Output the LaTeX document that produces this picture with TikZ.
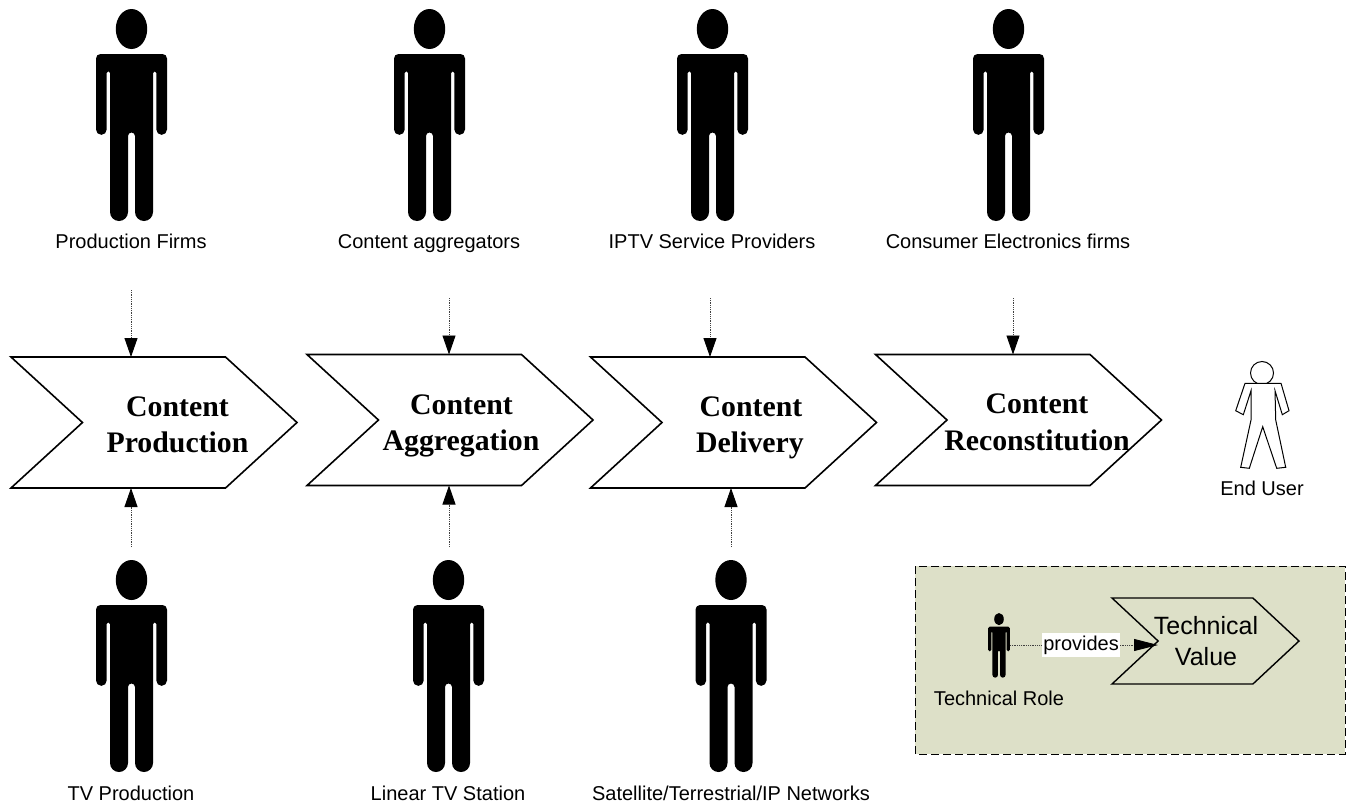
\documentclass[tikz,border=0pt]{standalone}
\usepackage{fontspec}
\setmainfont{Liberation Sans}
\newfontfamily\serifbold[Ligatures=TeX]{Liberation Serif Bold}
\usetikzlibrary{arrows.meta, shapes.symbols}
\tikzset{
    figbox/.style={inner sep=0pt, outer sep=0pt, minimum width=71pt, minimum height=212pt},
    rolelabel/.style={font=\fontsize{20}{22}\selectfont, inner sep=0pt, anchor=base},
    valuelabel/.style={font=\serifbold\fontsize{29.8}{33}\selectfont, inner sep=0pt, anchor=base},
    chevron/.style={draw, line width=1.6pt, signal, signal from=west, signal to=east, signal pointer angle=85,
        inner sep=0pt, outer sep=0pt, minimum width=286pt, minimum height=131pt},
    flow/.style={black!75, dash pattern=on 1pt off 0.8pt, line width=0.9pt, -{Triangle[length=19pt, width=13pt, black]}},
    figure/.pic={
        \fill (0,20) ellipse [x radius=15.7, y radius=20];
        \fill (-31,45) -- (31,45) arc [start angle=-90, end angle=0, radius=4.5]
            -- (35.5,120.5) arc [start angle=0, end angle=180, radius=5.35]
            -- (24.8,64) arc [start angle=0, end angle=-180, radius=1.65]
            -- (21.5,203) arc [start angle=0, end angle=180, radius=9]
            -- (3.5,127) arc [start angle=0, end angle=-180, radius=3.5]
            -- (-3.5,203) arc [start angle=0, end angle=180, radius=9]
            -- (-21.5,64) arc [start angle=0, end angle=-180, radius=1.65]
            -- (-24.8,120.5) arc [start angle=0, end angle=180, radius=5.35]
            -- (-35.5,49.5) arc [start angle=-180, end angle=-90, radius=4.5] -- cycle;
    }
}
\begin{document}
\begin{tikzpicture}[x=1pt, y=-1pt]
    \useasboundingbox (0,0) rectangle (1348,803);

    \node[figbox] (firms) at (131.5,115) {};
    \node[figbox] (aggregators) at (429.5,115) {};
    \node[figbox] (iptv) at (712.5,115) {};
    \node[figbox] (electronics) at (1008.5,115) {};
    \node[figbox] (tvprod) at (131.5,666) {};
    \node[figbox] (linear) at (448.5,666) {};
    \node[figbox] (networks) at (731,666) {};
    \foreach \fig in {firms, aggregators, iptv, electronics, tvprod, linear, networks}
        \pic at (\fig.north) {figure};

    \node[rolelabel] at (131,248) {Production Firms};
    \node[rolelabel] at (429,248) {Content aggregators};
    \node[rolelabel] at (712,248) {IPTV Service Providers};
    \node[rolelabel] at (1008,248) {Consumer Electronics firms};
    \node[rolelabel] at (131,800) {TV Production};
    \node[rolelabel] at (448,800) {Linear TV Station};
    \node[rolelabel] at (731,800) {Satellite/Terrestrial/IP Networks};

    \node[chevron] (production) at (154,422.5) {};
    \node[chevron] (aggregation) at (450,420) {};
    \node[chevron] (delivery) at (733.5,422.5) {};
    \node[chevron] (reconstitution) at (1018.5,420) {};

    \node[valuelabel] at (177.5,416) {Content};
    \node[valuelabel] at (177.5,452) {Production};
    \node[valuelabel] at (461.5,414) {Content};
    \node[valuelabel] at (461,450) {Aggregation};
    \node[valuelabel] at (751,416.5) {Content};
    \node[valuelabel] at (750,452) {Delivery};
    \node[valuelabel] at (1037,413.5) {Content};
    \node[valuelabel] at (1037,450) {Reconstitution};

    \coordinate (firmsflow) at (131,290);
    \coordinate (aggregatorsflow) at (449,298);
    \coordinate (iptvflow) at (710,298);
    \coordinate (electronicsflow) at (1013,298);
    \coordinate (tvprodflow) at (131,547);
    \coordinate (linearflow) at (449,547);
    \coordinate (networksflow) at (731,547);
    \draw[flow] (firmsflow) -- (firmsflow |- production.north);
    \draw[flow] (aggregatorsflow) -- (aggregatorsflow |- aggregation.north);
    \draw[flow] (iptvflow) -- (iptvflow |- delivery.north);
    \draw[flow] (electronicsflow) -- (electronicsflow |- reconstitution.north);
    \draw[flow] (tvprodflow) -- (tvprodflow |- production.south);
    \draw[flow] (linearflow) -- (linearflow |- aggregation.south);
    \draw[flow] (networksflow) -- (networksflow |- delivery.south);

    \draw[line width=1pt, fill=white] (1262,373) circle [radius=11.5];
    \draw[line width=1pt, fill=white] (1245,383.3) -- (1281,383.3) -- (1289,410.7) -- (1282.3,414.7)
        -- (1275,390.7) -- (1275.7,420) -- (1285.7,467.3) -- (1276.7,468.3) -- (1262.7,426.7)
        -- (1249.3,468.3) -- (1240.7,467.3) -- (1251,420) -- (1251,390.7) -- (1243.3,414.7)
        -- (1235.7,410.7) -- cycle;
    \node[rolelabel] at (1262,495) {End User};

    \draw[dash pattern=on 8pt off 4pt, line width=1pt, fill={rgb,255:red,221;green,224;blue,200}] (915,566) rectangle (1345,754);
    \node[figbox, minimum width=22pt, minimum height=64pt] (role) at (999,645) {};
    \pic[scale=0.305] at (role.north) {figure};
    \node[rolelabel] at (999,705) {Technical Role};
    \node[chevron, line width=1.4pt, minimum width=187pt, minimum height=86pt, signal pointer angle=86] (value) at (1205.5,641) {};
    \node[font=\fontsize{25}{31}\selectfont, align=center, inner sep=0pt] at (1206,641) {Technical\\Value};
    \coordinate (notch) at (1158,645);
    \draw[flow, line width=0.8pt, -{Triangle[length=24pt, width=12pt, black]}] (role.east) -- (notch)
        node[pos=0.48, fill=white, text=black, font=\fontsize{20}{22}\selectfont, inner xsep=1pt, inner ysep=3pt] {provides};
\end{tikzpicture}
\end{document}
